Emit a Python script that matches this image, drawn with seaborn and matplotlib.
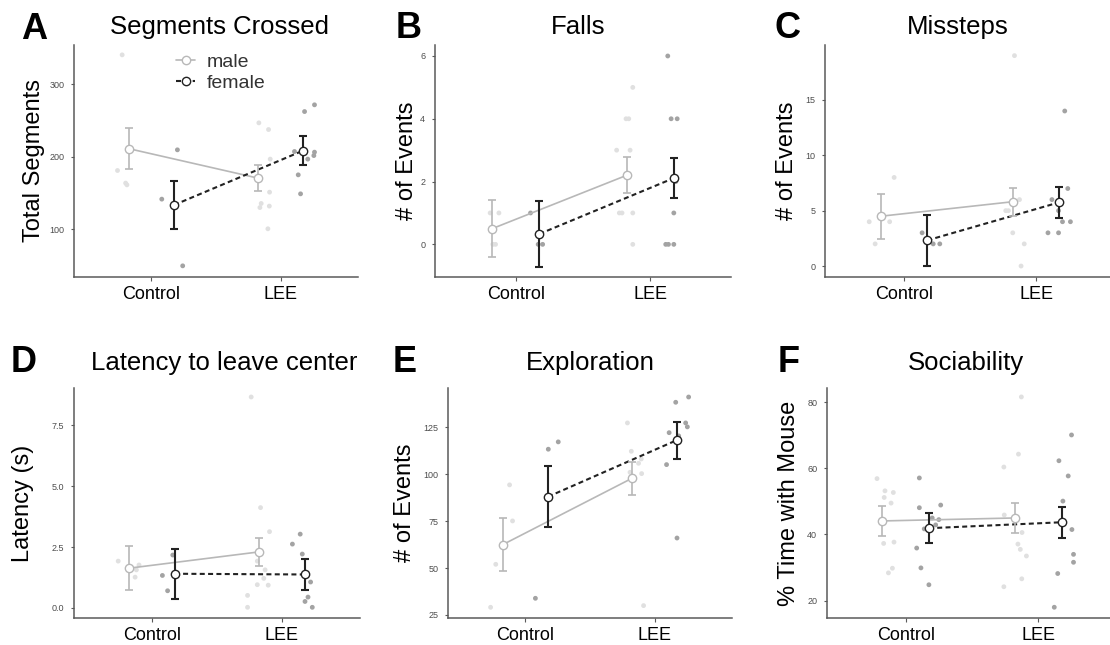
import matplotlib
matplotlib.use("Agg")
import matplotlib.pyplot as plt
import seaborn as sns
import pandas as pd
from matplotlib.lines import Line2D

# ---------------- data ----------------
groups = ["Control", "LEE"]
sexes = ["male", "female"]

# A  Segments Crossed
a_male_mean = [211.0, 170.4]
a_male_err = [28.7, 17.5]
a_female_mean = [133.3, 208.3]
a_female_err = [32.9, 20.5]
a_male_ctrl = [340.4, 180.9, 163.5, 161.1]
a_male_ctrl_jit = [-0.227, -0.263, -0.20, -0.19]
a_female_ctrl = [209.4, 141.4, 49.4]
a_female_ctrl_jit = [0.201, 0.08, 0.242]
a_male_lee = [246.6, 237.4, 196.6, 151.0, 135.4, 129.8, 131.8, 100.5]
a_male_lee_jit = [-0.168, -0.093, -0.08, -0.085, -0.15, -0.16, -0.087, -0.098]
a_female_lee = [271.5, 262.2, 207.1, 196.6, 206.2, 201.5, 174.9, 148.7]
a_female_lee_jit = [0.263, 0.186, 0.108, 0.211, 0.263, 0.258, 0.137, 0.155]

# B  Falls
b_male_mean = [0.5, 2.2]
b_male_err = [0.9, 0.57]
b_female_mean = [0.33, 2.11]
b_female_err = [1.04, 0.64]
b_male_ctrl = [1, 1, 0, 0]
b_male_ctrl_jit = [-0.19, -0.125, -0.17, -0.15]
b_female_ctrl = [1, 0, 0]
b_female_ctrl_jit = [0.11, 0.167, 0.20]
b_male_lee = [5, 4, 4, 3, 3, 1, 1, 1, 0]
b_male_lee_jit = [-0.13, -0.18, -0.16, -0.25, -0.15, -0.23, -0.21, -0.13, -0.13]
b_female_lee = [6, 4, 4, 2, 1, 0, 0, 0]
b_female_lee_jit = [0.13, 0.155, 0.20, 0.19, 0.175, 0.115, 0.135, 0.175]

# C  Missteps
c_male_mean = [4.5, 5.81]
c_male_err = [2.03, 1.28]
c_female_mean = [2.32, 5.75]
c_female_err = [2.32, 1.40]
c_male_ctrl = [8, 4, 4, 2]
c_male_ctrl_jit = [-0.076, -0.265, -0.11, -0.22]
c_female_ctrl = [3, 2, 2]
c_female_ctrl_jit = [0.136, 0.22, 0.27]
c_male_lee = [19, 6, 5, 5, 3, 2, 0]
c_male_lee_jit = [-0.164, -0.126, -0.23, -0.21, -0.177, -0.09, -0.114]
c_female_lee = [14, 7, 6, 5, 4, 4, 3, 3]
c_female_lee_jit = [0.217, 0.24, 0.12, 0.17, 0.20, 0.26, 0.09, 0.17]

# D  Latency to leave center
d_male_mean = [1.63, 2.30]
d_male_err = [0.90, 0.57]
d_female_mean = [1.40, 1.37]
d_female_err = [1.03, 0.635]
d_male_ctrl = [1.92, 1.76, 1.56, 1.26]
d_male_ctrl_jit = [-0.26, -0.10, -0.12, -0.13]
d_female_ctrl = [2.17, 1.33, 0.70]
d_female_ctrl_jit = [0.16, 0.08, 0.12]
d_male_lee = [8.67, 4.12, 3.13, 1.92, 1.56, 1.21, 0.95, 0.93, 0.51, 0.02]
d_male_lee_jit = [-0.237, -0.165, -0.096, -0.19, -0.13, -0.14, -0.19, -0.106, -0.265, -0.265]
d_female_lee = [3.03, 2.62, 2.21, 1.06, 0.44, 0.26, 0.02]
d_female_lee_jit = [0.14, 0.08, 0.156, 0.22, 0.20, 0.177, 0.233]

# E  Exploration
e_male_mean = [62.5, 97.8]
e_male_err = [14.05, 8.8]
e_female_mean = [88.0, 118.2]
e_female_err = [16.25, 9.85]
e_male_ctrl = [94.3, 75.1, 52.0, 29.1]
e_male_ctrl_jit = [-0.123, -0.10, -0.23, -0.27]
e_female_ctrl = [113.3, 117.2, 33.9]
e_female_ctrl_jit = [0.177, 0.254, 0.077]
e_male_lee = [127.3, 112.2, 105.8, 108.1, 101.0, 100.3, 98.7, 30.0]
e_male_lee_jit = [-0.21, -0.18, -0.124, -0.103, -0.19, -0.10, -0.165, -0.085]
e_female_lee = [141.1, 138.3, 127.3, 125.2, 122.1, 120.4, 105.1, 66.0]
e_female_lee_jit = [0.264, 0.164, 0.241, 0.254, 0.113, 0.187, 0.093, 0.174]

# F  Sociability
f_male_mean = [44.1, 45.0]
f_male_err = [4.45, 4.5]
f_female_mean = [41.9, 43.7]
f_female_err = [4.55, 4.75]
f_male_ctrl = [56.9, 53.2, 52.7, 51.2, 49.5, 37.3, 37.7, 29.8, 28.4]
f_male_ctrl_jit = [-0.216, -0.156, -0.093, -0.162, -0.11, -0.166, -0.088, -0.10, -0.13]
f_female_ctrl = [57.1, 48.1, 48.9, 44.5, 45.0, 42.9, 41.7, 35.9, 29.9, 24.8]
f_female_ctrl_jit = [0.103, 0.103, 0.264, 0.25, 0.20, 0.226, 0.14, 0.083, 0.115, 0.175]
f_male_lee = [81.6, 64.3, 60.4, 45.9, 40.6, 37.1, 35.5, 33.5, 26.6, 24.2]
f_male_lee_jit = [-0.128, -0.15, -0.26, -0.257, -0.123, -0.154, -0.136, -0.09, -0.125, -0.26]
f_female_lee = [70.1, 62.3, 57.7, 50.1, 41.5, 34.0, 31.6, 28.2, 18.0]
f_female_lee_jit = [0.25, 0.155, 0.225, 0.185, 0.253, 0.265, 0.265, 0.146, 0.12]

titles = ["Segments Crossed", "Falls", "Missteps",
          "Latency to leave center", "Exploration", "Sociability"]
letters = ["A", "B", "C", "D", "E", "F"]
ylabels = ["Total Segments", "# of Events", "# of Events",
           "Latency (s)", "# of Events", "% Time with Mouse"]
a_yticks = [100, 200, 300]
b_yticks = [0, 2, 4, 6]
c_yticks = [0, 5, 10, 15]
d_yticks = [0.0, 2.5, 5.0, 7.5]
e_yticks = [25, 50, 75, 100, 125]
f_yticks = [20, 40, 60, 80]

# ---------------- style ----------------
sns.set_style("white")
plt.rcParams["font.family"] = ["Liberation Sans", "DejaVu Sans"]
plt.rcParams["text.color"] = "black"

W, H = 1110, 645
MALE_LINE = "#b8b8b8"
FEMALE_LINE = "#222222"
MALE_PT = "#e0e0e0"
FEMALE_PT = "#a3a3a3"
DODGE = 0.175

panels = [
    dict(m=a_male_mean, me=a_male_err, f=a_female_mean, fe=a_female_err,
         pts=[(a_male_ctrl, a_male_ctrl_jit, 0, "male"), (a_female_ctrl, a_female_ctrl_jit, 0, "female"),
              (a_male_lee, a_male_lee_jit, 1, "male"), (a_female_lee, a_female_lee_jit, 1, "female")],
         yt=a_yticks, ylim=(34, 354), fmt="{:.0f}",
         box=(74, 45, 358, 277), xlim=(-0.6, 1.6)),
    dict(m=b_male_mean, me=b_male_err, f=b_female_mean, fe=b_female_err,
         pts=[(b_male_ctrl, b_male_ctrl_jit, 0, "male"), (b_female_ctrl, b_female_ctrl_jit, 0, "female"),
              (b_male_lee, b_male_lee_jit, 1, "male"), (b_female_lee, b_female_lee_jit, 1, "female")],
         yt=b_yticks, ylim=(-1.04, 6.35), fmt="{:.0f}",
         box=(435, 45, 731, 277), xlim=(-0.6, 1.6)),
    dict(m=c_male_mean, me=c_male_err, f=c_female_mean, fe=c_female_err,
         pts=[(c_male_ctrl, c_male_ctrl_jit, 0, "male"), (c_female_ctrl, c_female_ctrl_jit, 0, "female"),
              (c_male_lee, c_male_lee_jit, 1, "male"), (c_female_lee, c_female_lee_jit, 1, "female")],
         yt=c_yticks, ylim=(-0.99, 19.96), fmt="{:.0f}",
         box=(825, 45, 1110, 277), xlim=(-0.6, 1.56)),
    dict(m=d_male_mean, me=d_male_err, f=d_female_mean, fe=d_female_err,
         pts=[(d_male_ctrl, d_male_ctrl_jit, 0, "male"), (d_female_ctrl, d_female_ctrl_jit, 0, "female"),
              (d_male_lee, d_male_lee_jit, 1, "male"), (d_female_lee, d_female_lee_jit, 1, "female")],
         yt=d_yticks, ylim=(-0.42, 9.04), fmt="{:.1f}",
         box=(74, 388, 360, 618), xlim=(-0.6, 1.6)),
    dict(m=e_male_mean, me=e_male_err, f=e_female_mean, fe=e_female_err,
         pts=[(e_male_ctrl, e_male_ctrl_jit, 0, "male"), (e_female_ctrl, e_female_ctrl_jit, 0, "female"),
              (e_male_lee, e_male_lee_jit, 1, "male"), (e_female_lee, e_female_lee_jit, 1, "female")],
         yt=e_yticks, ylim=(23.4, 145.9), fmt="{:.0f}",
         box=(448, 388, 732, 618), xlim=(-0.6, 1.6)),
    dict(m=f_male_mean, me=f_male_err, f=f_female_mean, fe=f_female_err,
         pts=[(f_male_ctrl, f_male_ctrl_jit, 0, "male"), (f_female_ctrl, f_female_ctrl_jit, 0, "female"),
              (f_male_lee, f_male_lee_jit, 1, "male"), (f_female_lee, f_female_lee_jit, 1, "female")],
         yt=f_yticks, ylim=(14.75, 84.3), fmt="{:.0f}",
         box=(827, 388, 1110, 618), xlim=(-0.593, 1.54)),
]

title_pos = [(220, 34), (578, 34), (958, 34), (224, 370), (590, 370), (966, 370)]
letter_pos = [(21, 39), (396, 38), (774, 38), (11, 372), (393, 372), (778, 372)]
ylabel_pos = [(40, 161), (413, 161), (793, 161), (29, 503), (411, 503), (795, 503)]

fig = plt.figure(figsize=(W / 100, H / 100), dpi=100)

for i, p in enumerate(panels):
    l, t, r, b = p["box"]
    ax = fig.add_axes([l / W, 1 - b / H, (r - l) / W, (b - t) / H])

    # raw points
    rows = []
    for vals, jit, g, sex in p["pts"]:
        for v, j in zip(vals, jit):
            rows.append(dict(x=g + j, y=v, sex=sex))
    df = pd.DataFrame(rows)
    sns.scatterplot(data=df, x="x", y="y", hue="sex",
                    palette={"male": MALE_PT, "female": FEMALE_PT},
                    s=12, linewidth=0, legend=False, ax=ax, zorder=1)

    # means, error bars, connecting lines
    for sex, mean, err, col, lw, ls, off in [
        ("male", p["m"], p["me"], MALE_LINE, 1.2, "-", -DODGE),
        ("female", p["f"], p["fe"], FEMALE_LINE, 1.5, (0, (2.4, 1.6)), DODGE),
    ]:
        xs = [0 + off, 1 + off]
        mdf = pd.DataFrame(dict(x=xs, y=mean))
        sns.lineplot(data=mdf, x="x", y="y", color=col, lw=lw, ax=ax,
                     linestyle=ls, zorder=3)
        ax.errorbar(xs, mean, yerr=err, fmt="none", ecolor=col,
                    elinewidth=lw, capsize=3, capthick=lw, zorder=4)
        ax.plot(xs, mean, "o", ms=6, mfc="white", mec=col, mew=1.0, zorder=5)

    ax.set_xlim(*p["xlim"])
    ax.set_ylim(*p["ylim"])
    ax.set_xticks([0, 1])
    ax.set_xticklabels(groups)
    ax.set_yticks(p["yt"])
    ax.set_yticklabels([p["fmt"].format(v) for v in p["yt"]])
    ax.set_xlabel("")
    ax.set_ylabel("")
    for s in ["top", "right"]:
        ax.spines[s].set_visible(False)
    for s in ["left", "bottom"]:
        ax.spines[s].set_color("#5a5a5a")
        ax.spines[s].set_linewidth(1.1)
    ax.tick_params(axis="y", labelsize=6.5, labelcolor="#4d4d4d", length=2.5,
                   width=0.8, color="#5a5a5a", pad=4.5, left=True)
    ax.tick_params(axis="x", labelsize=13, labelcolor="black", length=2.8,
                   width=0.8, color="#5a5a5a", pad=3.5, bottom=True)

    tx, ty = title_pos[i]
    fig.text(tx / W, 1 - ty / H, titles[i], ha="center", va="baseline",
             fontsize=18.5, color="black")
    lx, ly = letter_pos[i]
    fig.text(lx / W, 1 - ly / H, letters[i], ha="left", va="baseline",
             fontsize=26, fontweight="bold", color="black")
    yx, yy = ylabel_pos[i]
    fig.text(yx / W, 1 - yy / H, ylabels[i], rotation=90, rotation_mode="anchor",
             ha="center", va="baseline", fontsize=17, color="black")

    if i == 0:
        handles = [
            Line2D([], [], color=MALE_LINE, lw=1.2, marker="o", ms=6,
                   mfc="white", mec=MALE_LINE),
            Line2D([], [], color=FEMALE_LINE, lw=1.5, ls=(0, (2.4, 1.6)),
                   marker="o", ms=6, mfc="white", mec=FEMALE_LINE),
        ]
        ax.legend(handles, sexes, loc="upper left",
                  bbox_to_anchor=((176 - l) / (r - l), (b - 53) / (b - t)),
                  frameon=False, fontsize=14, labelcolor="#333333",
                  handlelength=1.0, handletextpad=0.6, labelspacing=0.2,
                  borderpad=0, borderaxespad=0)

fig.savefig("out.png", dpi=100)
